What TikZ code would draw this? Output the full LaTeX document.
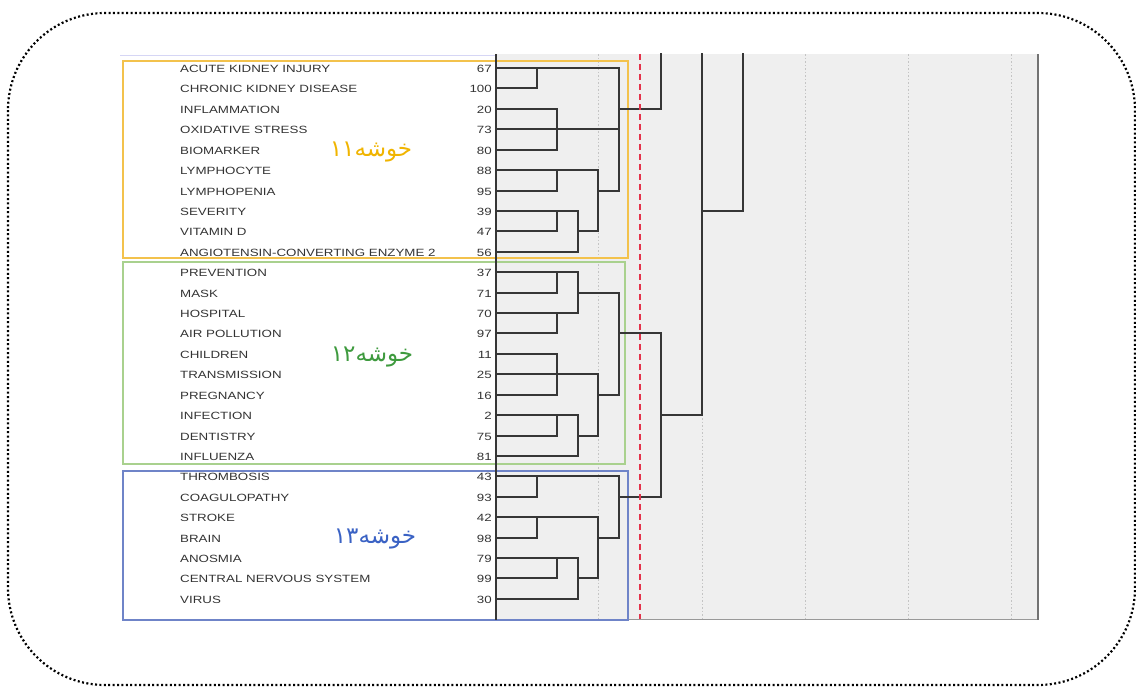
\documentclass[tikz,border=0pt]{standalone}
\usepackage{fontspec}
\setmainfont{Liberation Sans}
\newfontfamily\lblfont[FakeStretch=1.27]{Liberation Sans}
\newfontfamily\fafont[Script=Arabic]{DejaVu Sans}
\TeXXeTstate=1
\definecolor{plotbg}{HTML}{EFEFEF}
\definecolor{dline}{HTML}{363636}
\definecolor{txt}{HTML}{333333}
\definecolor{ybox}{HTML}{F3C24C}
\definecolor{gbox}{HTML}{A9D18E}
\definecolor{bbox}{HTML}{6F84C8}
\definecolor{ytxt}{HTML}{F0B400}
\definecolor{gtxt}{HTML}{3E9A3E}
\definecolor{btxt}{HTML}{3A62C4}
\definecolor{cutred}{HTML}{E4324A}
\definecolor{gridc}{HTML}{C4C4C4}
\begin{document}
\begin{tikzpicture}[x=1pt,y=-1pt,
  den/.style={draw=dline,line width=2pt,line cap=rect},
  lbl/.style={anchor=west,inner sep=0pt,text height=7.8pt,text depth=0pt,font=\lblfont\fontsize{10.5}{12}\selectfont,text=txt},
  numlbl/.style={anchor=east,inner sep=0pt,text height=7.8pt,text depth=0pt,font=\lblfont\fontsize{10.5}{12}\selectfont,text=txt},
  grp/.style={line width=1.3pt},
  falbl/.style={inner sep=0pt,font=\fafont\fontsize{23}{26}\selectfont},
  gridl/.style={draw=gridc,line width=1pt,dash pattern=on 1.5pt off 2pt},
  outer/.style={draw=black,line width=2.2pt,dash pattern=on 2pt off 2.4pt}]
\useasboundingbox (0,0) rectangle (1136,686);
% plot area
\fill[plotbg] (496,54) rectangle (1038,619);
\draw[draw=gray!80,line width=1pt] (496,619) -- (1038,619);
\draw[draw=gray!90!black,line width=2pt] (1038,54) -- (1038,620);
\draw[draw=gray!40!blue!20,line width=1pt] (120,55) -- (496,55);
% grid lines
\foreach \gx in {598,702,805,908,1011} \draw[gridl] (\gx,54) -- (\gx,619);
% level coordinates
\coordinate (top) at (0,54);
\coordinate (xA) at (537,0);
\coordinate (xB) at (557,0);
\coordinate (xC) at (578,0);
\coordinate (xD) at (598,0);
\coordinate (xE) at (619,0);
\coordinate (xF) at (661,0);
\coordinate (xG) at (702,0);
\coordinate (xH) at (743,0);
% rows
\foreach \i/\nm/\num in {1/ACUTE KIDNEY INJURY/67,2/CHRONIC KIDNEY DISEASE/100,3/INFLAMMATION/20,4/OXIDATIVE STRESS/73,5/BIOMARKER/80,6/LYMPHOCYTE/88,7/LYMPHOPENIA/95,8/SEVERITY/39,9/VITAMIN D/47,10/ANGIOTENSIN-CONVERTING ENZYME 2/56,11/PREVENTION/37,12/MASK/71,13/HOSPITAL/70,14/AIR POLLUTION/97,15/CHILDREN/11,16/TRANSMISSION/25,17/PREGNANCY/16,18/INFECTION/2,19/DENTISTRY/75,20/INFLUENZA/81,21/THROMBOSIS/43,22/COAGULOPATHY/93,23/STROKE/42,24/BRAIN/98,25/ANOSMIA/79,26/CENTRAL NERVOUS SYSTEM/99,27/VIRUS/30}{
  \pgfmathsetmacro{\ry}{68+round((\i-1)*20.42)}
  \coordinate (r\i) at (496,\ry);
  \node[lbl] (lab\i) at (180,\ry+0.5) {\nm};
  \node[numlbl] (num\i) at (492,\ry+0.5) {\num};
}
% group boxes
\draw[grp,draw=ybox] (123,61) rectangle (628,258);
\draw[grp,draw=gbox] (123,262) rectangle (625,464);
\draw[grp,draw=bbox] (123,471) rectangle (628,620);
% leaf lines
\foreach \i/\e in {1/xE,2/xA,3/xB,4/xE,5/xB,6/xD,7/xB,8/xC,9/xB,10/xC,11/xC,12/xB,13/xC,14/xB,15/xB,16/xD,17/xB,18/xC,19/xB,20/xC,21/xE,22/xA,23/xD,24/xA,25/xC,26/xB,27/xC}
  \draw[den] (r\i) -- (r\i -| \e);
% vertical joins
\foreach \a/\b/\x in {1/2/xA,21/22/xA,23/24/xA,3/5/xB,6/7/xB,8/9/xB,11/12/xB,13/14/xB,15/17/xB,18/19/xB,25/26/xB,8/10/xC,11/13/xC,18/20/xC,25/27/xC,6/9/xD,16/19/xD,23/26/xD,1/7/xE,12/17/xE,21/24/xE,14/22/xF}
  \draw[den] (r\a -| \x) -- (r\b -| \x);
% cluster outputs
\foreach \i/\a/\b in {9/xC/xD,12/xC/xE,19/xC/xD,26/xC/xD,7/xD/xE,17/xD/xE,24/xD/xE,3/xE/xF,14/xE/xF,22/xE/xF,18/xF/xG,8/xG/xH}
  \draw[den] (r\i -| \a) -- (r\i -| \b);
\draw[den] (top -| xF) -- (r3 -| xF);
\draw[den] (top -| xG) -- (r18 -| xG);
\draw[den] (top -| xH) -- (r8 -| xH);
% axis
\draw[draw=dline,line width=2.4pt] (496,54) -- (496,620);
% cut line
\draw[draw=cutred,line width=2pt,dash pattern=on 6pt off 4pt] (640,54) -- (640,619);
% persian labels
\node[falbl,text=ytxt] (c11) at (371,152) {\beginR خوشه\beginL ۱۱\endL\endR};
\node[falbl,text=gtxt] (c12) at (372,357) {\beginR خوشه\beginL ۱۲\endL\endR};
\node[falbl,text=btxt] (c13) at (375,539) {\beginR خوشه\beginL ۱۳\endL\endR};
% outer border
\draw[outer,rounded corners=97pt] (8,13) rectangle (1135,685);
\end{tikzpicture}
\end{document}
